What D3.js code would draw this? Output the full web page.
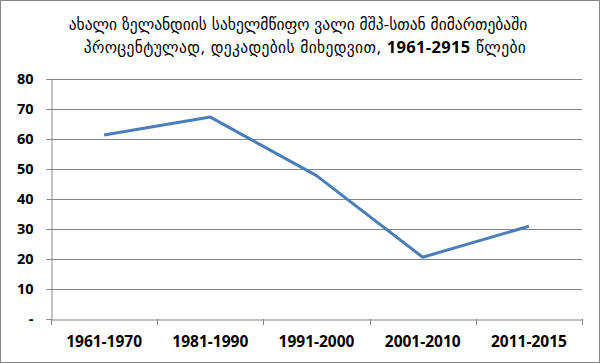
<!DOCTYPE html>
<html><head><meta charset="utf-8">
<script src="https://cdn.jsdelivr.net/npm/d3@7"></script>
<style>body{margin:0;background:#fff}svg{display:block}</style>
</head><body>
<script>
const categories = ["1961-1970","1981-1990","1991-2000","2001-2010","2011-2015"];
const values = [61.3, 67.3, 47.8, 20.6, 30.9];
const yTicks = [0,10,20,30,40,50,60,70,80];
const titleLine1 = "ახალი ზელანდიის სახელმწიფო ვალი მშპ-სთან მიმართებაში";
const titleLine2a = "პროცენტულად, დეკადების მიხედვით, ";
const titleLine2b = "1961-2915";
const titleLine2c = " წლები";

const W = 600, H = 363;
const svg = d3.select("body").append("svg").attr("width", W).attr("height", H);
svg.append("rect").attr("x",0.5).attr("y",0.5).attr("width",W-1).attr("height",H-1)
  .attr("fill","#fff").attr("stroke","#868686");

const x = d3.scaleBand().domain(categories).range([51, 582]);
const y = d3.scaleLinear().domain([0, 80]).range([319, 79]);

// gridlines
svg.append("g").selectAll("line").data(yTicks.filter(d=>d>0)).join("line")
  .attr("x1",51).attr("x2",582).attr("y1",d=>Math.round(y(d))+0.5).attr("y2",d=>Math.round(y(d))+0.5)
  .attr("stroke","#868686").attr("stroke-width",1);

const labelFont = "'Open Sans', sans-serif";
// y axis
const yAxis = svg.append("g").attr("transform","translate(51.5,0)")
  .call(d3.axisLeft(y).tickValues(yTicks).tickSize(5).tickPadding(13).tickFormat(d => d===0 ? "-" : d));
yAxis.select(".domain").attr("stroke","#868686");
yAxis.selectAll(".tick line").attr("stroke","#868686");
yAxis.selectAll(".tick text").attr("font-family",labelFont).attr("font-weight","bold")
  .attr("font-size","14.5px").attr("fill","#000");

// x axis
const xAxis = svg.append("g").attr("transform","translate(0,319.5)")
  .call(d3.axisBottom(x).tickSize(0).tickPadding(16));
xAxis.select(".domain").attr("stroke","#868686");
xAxis.selectAll(".tick text").attr("font-family",labelFont).attr("font-weight","bold")
  .attr("font-size","15.5px").attr("fill","#000");
// band boundary ticks
const bounds = categories.map(c => x(c)).concat([x(categories[categories.length-1]) + x.bandwidth()]);
svg.append("g").selectAll("line").data(bounds).join("line")
  .attr("x1",d=>Math.round(d)+0.5).attr("x2",d=>Math.round(d)+0.5).attr("y1",319).attr("y2",325)
  .attr("stroke","#868686");

// line
const line = d3.line().x((d,i)=>x(categories[i]) + x.bandwidth()/2).y(d=>y(d));
svg.append("path").datum(values).attr("d", line).attr("fill","none")
  .attr("stroke","#4A7EBB").attr("stroke-width",3).attr("stroke-linejoin","round");

// title
const titleFont = "'DejaVu Sans', sans-serif";
svg.append("text").attr("x",298).attr("y",30).attr("text-anchor","middle")
  .attr("font-family",titleFont).attr("font-size","15.5px").attr("fill","#000").text(titleLine1);
const t2 = svg.append("text").attr("x",305).attr("y",53).attr("text-anchor","middle")
  .attr("font-family",titleFont).attr("font-size","15.5px").attr("letter-spacing","0.35px").attr("fill","#000");
t2.append("tspan").text(titleLine2a);
t2.append("tspan").attr("font-family",labelFont).attr("font-weight","bold").attr("font-size","16.5px").text(titleLine2b);
t2.append("tspan").text(titleLine2c);
</script>
</body></html>
